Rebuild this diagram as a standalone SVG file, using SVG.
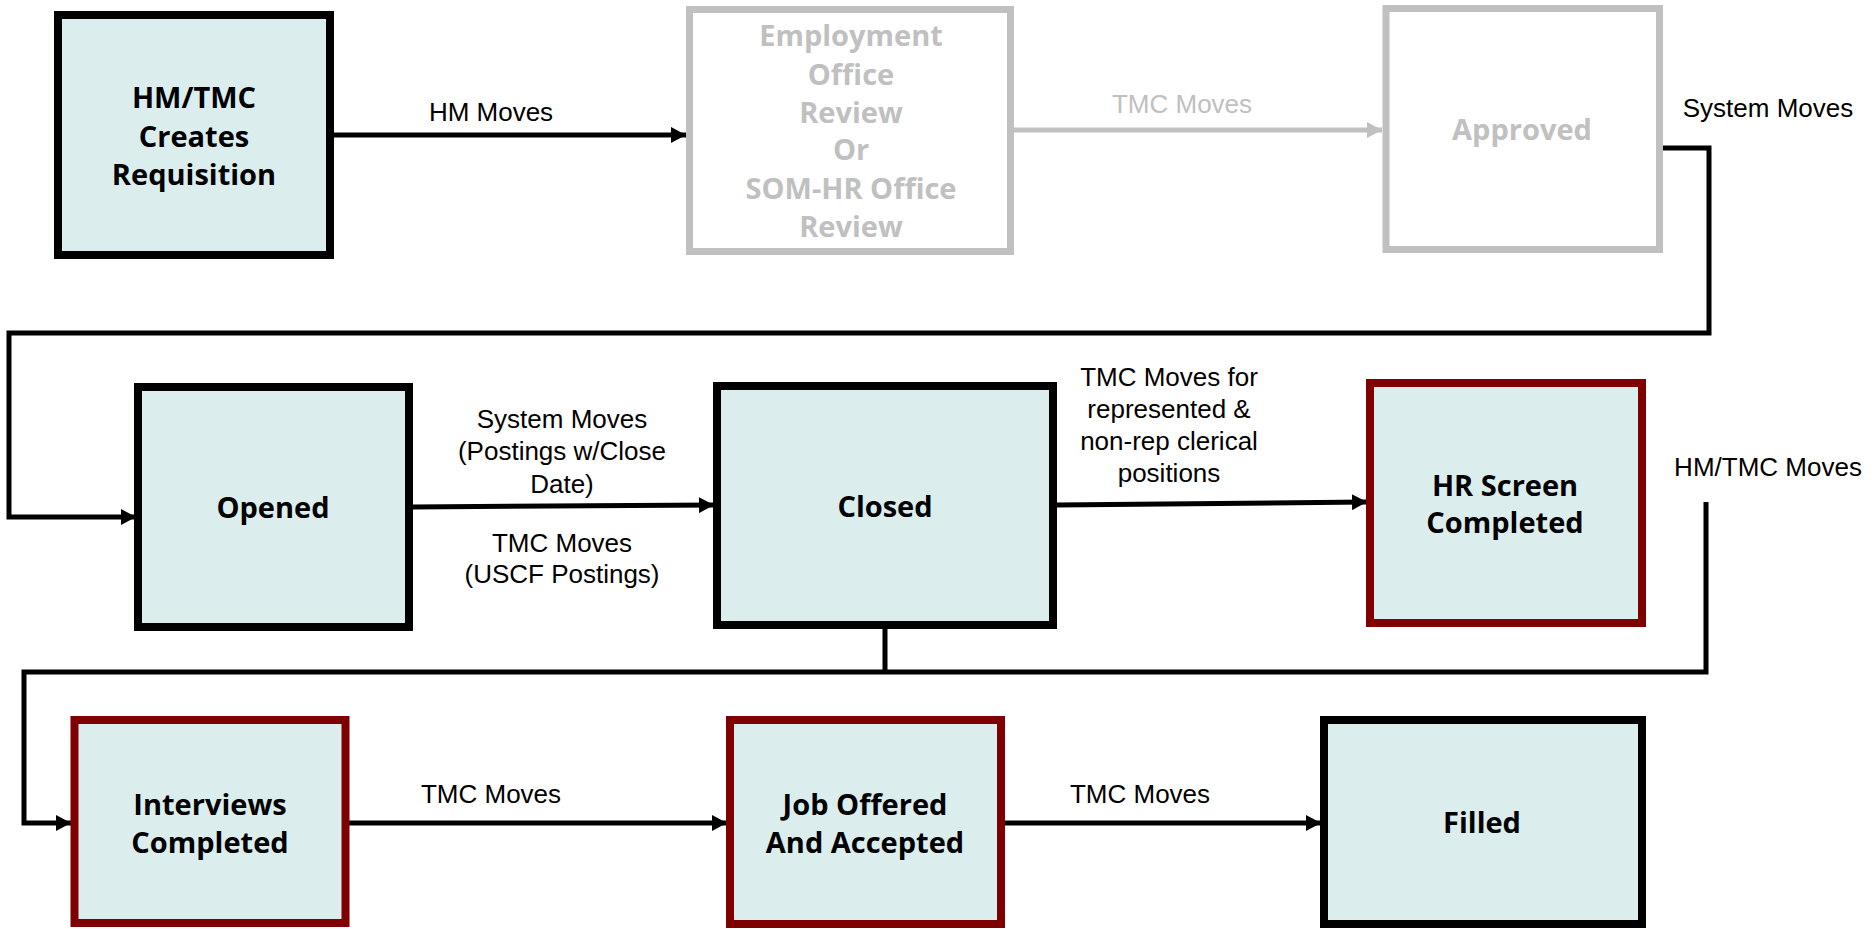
<svg xmlns="http://www.w3.org/2000/svg" width="1875" height="929" viewBox="0 0 1875 929">
<style>
.box{fill:#dbeeed;stroke:#000;stroke-width:8}
.red{fill:#dbeeed;stroke:#7f0000;stroke-width:8}
.grey{fill:#fff;stroke:#c0c0c0;stroke-width:7}
.nt{font-family:"Open Sans",sans-serif;font-weight:700;font-size:29px;fill:#000;text-anchor:middle}
.gt{font-family:"Open Sans",sans-serif;font-weight:700;font-size:29px;fill:#c0c0c0;text-anchor:middle}
.lb{font-family:"Liberation Sans",Arial,sans-serif;font-size:26px;fill:#000;text-anchor:middle}
.lg{font-family:"Liberation Sans",Arial,sans-serif;font-size:26px;fill:#c0c0c0;text-anchor:middle}
.c{fill:none;stroke:#000;stroke-width:5}
.cg{fill:none;stroke:#c0c0c0;stroke-width:5}
</style>
<defs>
<marker id="ah" markerUnits="userSpaceOnUse" markerWidth="16" markerHeight="16" refX="15" refY="8" orient="auto"><path d="M0,0 L15,8 L0,16 z" fill="#000"/></marker>
<marker id="ahg" markerUnits="userSpaceOnUse" markerWidth="16" markerHeight="16" refX="15" refY="8" orient="auto"><path d="M0,0 L15,8 L0,16 z" fill="#c0c0c0"/></marker>
</defs>
<rect width="1875" height="929" fill="#fff"/>
<g id="connectors">
<path class="c" d="M334,135 H686" marker-end="url(#ah)"/>
<path class="cg" d="M1014,130 H1382" marker-end="url(#ahg)"/>
<path class="c" d="M1663,148 H1709 V333 H9 V517 H136" marker-end="url(#ah)"/>
<path class="c" d="M413,507 L714,505" marker-end="url(#ah)"/>
<path class="c" d="M1057,505 L1367,502" marker-end="url(#ah)"/>
<path class="c" d="M1706,502 V672 H24 V823 H71" marker-end="url(#ah)"/>
<path class="c" d="M885,629 V672"/>
<path class="c" d="M349,823 H727" marker-end="url(#ah)"/>
<path class="c" d="M1005,823 H1321" marker-end="url(#ah)"/>
<text class="lb" x="491" y="121">HM Moves</text>
<text class="lg" x="1182" y="113">TMC Moves</text>
<text class="lb" x="1768" y="117">System Moves</text>
<text class="lb" x="562" y="428">System Moves</text>
<text class="lb" x="562" y="460">(Postings w/Close</text>
<text class="lb" x="562" y="493">Date)</text>
<text class="lb" x="562" y="552">TMC Moves</text>
<text class="lb" x="562" y="583">(USCF Postings)</text>
<text class="lb" x="1169" y="386">TMC Moves for</text>
<text class="lb" x="1169" y="418">represented &amp;</text>
<text class="lb" x="1169" y="450">non-rep clerical</text>
<text class="lb" x="1169" y="482">positions</text>
<text class="lb" x="1768" y="476">HM/TMC Moves</text>
<text class="lb" x="491" y="803">TMC Moves</text>
<text class="lb" x="1140" y="803">TMC Moves</text>
</g>
<g id="node-requisition">
<rect class="box" x="58" y="15" width="272" height="240"/>
<text class="nt" x="194" y="108">HM/TMC</text>
<text class="nt" x="194" y="147">Creates</text>
<text class="nt" x="194" y="185">Requisition</text>
</g>
<g id="node-review">
<rect class="grey" x="689.5" y="9.5" width="321" height="242"/>
<text class="gt" x="851" y="46">Employment</text>
<text class="gt" x="851" y="85">Office</text>
<text class="gt" x="851" y="123">Review</text>
<text class="gt" x="851" y="160">Or</text>
<text class="gt" x="851" y="199">SOM-HR Office</text>
<text class="gt" x="851" y="237">Review</text>
</g>
<g id="node-approved">
<rect class="grey" x="1386" y="8.5" width="273.5" height="241"/>
<text class="gt" x="1522" y="140">Approved</text>
</g>
<g id="node-opened">
<rect class="box" x="138" y="387" width="271" height="240"/>
<text class="nt" x="273" y="518">Opened</text>
</g>
<g id="node-closed">
<rect class="box" x="717" y="386" width="336" height="239"/>
<text class="nt" x="885" y="517">Closed</text>
</g>
<g id="node-hrscreen">
<rect class="red" x="1370" y="383" width="272" height="240"/>
<text class="nt" x="1505" y="496">HR Screen</text>
<text class="nt" x="1505" y="533">Completed</text>
</g>
<g id="node-interviews">
<rect class="red" x="74.5" y="720" width="271" height="203"/>
<text class="nt" x="210" y="815">Interviews</text>
<text class="nt" x="210" y="853">Completed</text>
</g>
<g id="node-joboffered">
<rect class="red" x="730" y="720" width="271" height="204"/>
<text class="nt" x="865" y="815">Job Offered</text>
<text class="nt" x="865" y="853">And Accepted</text>
</g>
<g id="node-filled">
<rect class="box" x="1324" y="720" width="318" height="204"/>
<text class="nt" x="1482" y="833">Filled</text>
</g>
</svg>
